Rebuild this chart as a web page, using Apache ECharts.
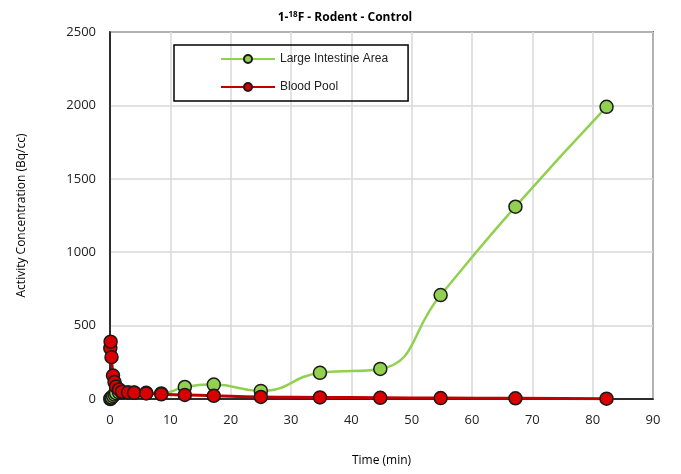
<!DOCTYPE html>
<html><head><meta charset="utf-8">
<script src="https://cdn.jsdelivr.net/npm/echarts@6/dist/echarts.min.js"></script>
<style>html,body{margin:0;padding:0;background:#fff}#c{width:681px;height:474px}</style>
</head><body><div id="c"></div>
<script>
const timeMin = [0.05, 0.1, 0.25, 0.5, 0.75, 1, 1.5, 2, 3, 4, 6, 8.5, 12.4, 17.2, 25, 34.8, 44.8, 54.8, 67.2, 82.3];
const largeIntestine = [0, 5, 10, 20, 30, 40, 45, 45, 45, 45, 42, 38, 82, 98, 55, 178, 205, 708, 1310, 1990];
const bloodPool = [345, 390, 285, 160, 115, 85, 65, 50, 45, 42, 38, 32, 28, 22, 14, 11, 8, 6, 5, 2];
const seriesNames = ['Large Intestine Area', 'Blood Pool'];

const chart = echarts.init(document.getElementById('c'));
const pair = (xs, ys) => xs.map((x, i) => [x, ys[i]]);
chart.setOption({
  animation: false,
  title: {
    text: '{b|1-}{s|18}{b|F}{n| - Rodent - Control}',
    left: 340, top: 6, textAlign: 'center',
    textStyle: {
      rich: {
        b: {fontFamily: 'Open Sans', fontWeight: 'bold', fontSize: 12, color: '#000'},
        s: {fontFamily: 'Open Sans', fontWeight: 'bold', fontSize: 8, color: '#000', verticalAlign: 'top', padding: [0,0,5,0]},
        n: {fontFamily: 'Open Sans', fontSize: 12, color: '#000'}
      }
    }
  },
  grid: {left: 110, right: 28, top: 32, bottom: 75, show: true, borderColor: '#000', borderWidth: 1.5},
  legend: {
    orient: 'vertical', left: 174, top: 45, width: 236,
    padding: [8, 20, 8, 46],
    borderColor: '#000', borderWidth: 1.5,
    itemWidth: 54, itemHeight: 10, itemGap: 16,
    textStyle: {fontFamily: 'Liberation Sans Narrow, Liberation Sans', fontSize: 12, color: '#222', width: 180},
    data: seriesNames
  },
  xAxis: {
    type: 'value', min: 0, max: 90, interval: 10,
    name: 'Time (min)', nameLocation: 'middle', nameGap: 56,
    nameTextStyle: {fontFamily: 'Open Sans', fontSize: 12, color: '#000'},
    axisLine: {lineStyle: {color: '#000', width: 1.5}},
    axisTick: {show: false},
    axisLabel: {fontFamily: 'Open Sans', fontSize: 13, color: '#222', margin: 15},
    splitLine: {lineStyle: {color: '#d9d9d9', width: 1.5}}
  },
  yAxis: {
    type: 'value', min: 0, max: 2500, interval: 500,
    name: 'Activity Concentration (Bq/cc)', nameLocation: 'middle', nameGap: 82,
    nameTextStyle: {fontFamily: 'Open Sans', fontSize: 12, color: '#000'},
    axisLine: {show: true, lineStyle: {color: '#000', width: 1.5}},
    axisTick: {show: false},
    axisLabel: {fontFamily: 'Open Sans', fontSize: 13, color: '#222', margin: 14, formatter: v => String(v)},
    splitLine: {lineStyle: {color: '#d9d9d9', width: 1.5}}
  },
  series: [
    {
      name: seriesNames[0], type: 'line', smooth: 0.5,
      data: pair(timeMin, largeIntestine),
      symbol: 'circle', symbolSize: 13,
      lineStyle: {color: '#92d050', width: 2.5},
      itemStyle: {color: '#92d050', borderColor: '#1a1a1a', borderWidth: 1.5},
      z: 2
    },
    {
      name: seriesNames[1], type: 'line', smooth: 0.5,
      data: pair(timeMin, bloodPool),
      symbol: 'circle', symbolSize: 13,
      lineStyle: {color: '#c00000', width: 3},
      itemStyle: {color: '#d80000', borderColor: '#1a1a1a', borderWidth: 1.5},
      z: 3
    }
  ]
});
</script></body></html>
